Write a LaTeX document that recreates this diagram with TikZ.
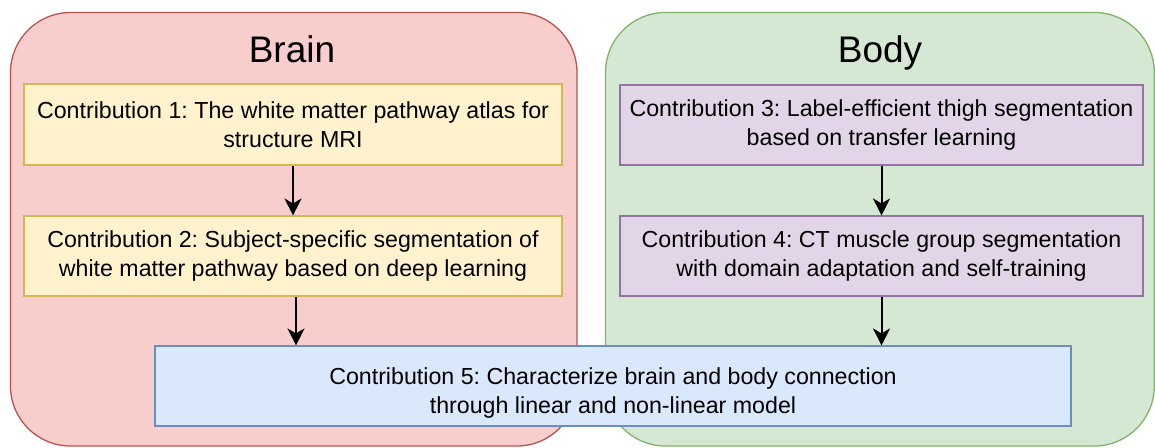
\documentclass[tikz,border=0pt]{standalone}
\usepackage{fontspec}
\setmainfont{Liberation Sans}
\frenchspacing
\usetikzlibrary{arrows.meta,calc}

\definecolor{redfill}{HTML}{F8CECC}
\definecolor{redline}{HTML}{B85450}
\definecolor{greenfill}{HTML}{D5E8D4}
\definecolor{greenline}{HTML}{82B366}
\definecolor{yellowfill}{HTML}{FFF2CC}
\definecolor{yellowline}{HTML}{D6B656}
\definecolor{purplefill}{HTML}{E1D5E7}
\definecolor{purpleline}{HTML}{9673A6}
\definecolor{bluefill}{HTML}{DAE8FC}
\definecolor{blueline}{HTML}{6C8EBF}

\tikzset{
  group/.style={rounded corners=60pt, line width=1.3pt},
  title/.style={inner sep=0pt, anchor=base, font={\fontsize{37}{44}\selectfont}},
  contribtext/.style={inner sep=0pt, align=center,
    font={\fontsize{23.2}{29.5}\selectfont}},
  contrib/.style={contribtext, draw, line width=1.1pt},
  flow/.style={line width=2pt, -{Stealth[length=17pt, width=17pt, inset=5pt]}},
}

\begin{document}
\begin{tikzpicture}[x=1pt, y=-1pt]
  \useasboundingbox (0,0) rectangle (1155,447);

  % the two groups
  \draw[group, fill=redfill, draw=redline] (10.5,12.5) rectangle (577,446);
  \draw[group, fill=greenfill, draw=greenline] (605.5,12.5) rectangle (1154.3,446);
  \node[title] (brain) at (292,62) {Brain};
  \node[title] (body) at (880,62) {Body};

  % brain contributions
  \node[contrib, fill=yellowfill, draw=yellowline,
        minimum width=538pt, minimum height=81pt] (c1) at (293,124.5)
        {Contribution 1: The white matter pathway atlas for\\structure MRI};
  \node[contrib, fill=yellowfill, draw=yellowline,
        minimum width=538pt, minimum height=80pt] (c2) at (293,256)
        {Contribution 2: Subject-specific segmentation of\\white matter pathway based on deep learning};

  % body contributions
  \node[contrib, fill=purplefill, draw=purpleline,
        minimum width=523pt, minimum height=80pt] (c3) at (881.5,125)
        {Contribution 3: Label-efficient thigh segmentation\\based on transfer learning};
  \node[contrib, fill=purplefill, draw=purpleline,
        minimum width=523pt, minimum height=80pt] (c4) at (881.5,256)
        {Contribution 4: CT muscle group segmentation\\with domain adaptation and self-training};

  % joint contribution, its text sitting a little low in the box
  \node[contrib, fill=bluefill, draw=blueline,
        minimum width=916pt, minimum height=80pt] (c5) at (613,386) {};
  \node[contribtext] (c5text) at ([yshift=-7pt]c5.center)
        {Contribution 5: Characterize brain and body connection\\through linear and non-linear model};

  % flow between contributions
  \draw[flow] (c1.south) -- (c2.north);
  \draw[flow] ([xshift=3pt]c2.south) -- ([xshift=3pt]c2.south |- c5.north);
  \draw[flow] (c3.south) -- (c4.north);
  \draw[flow] (c4.south) -- (c4.south |- c5.north);
\end{tikzpicture}
\end{document}
